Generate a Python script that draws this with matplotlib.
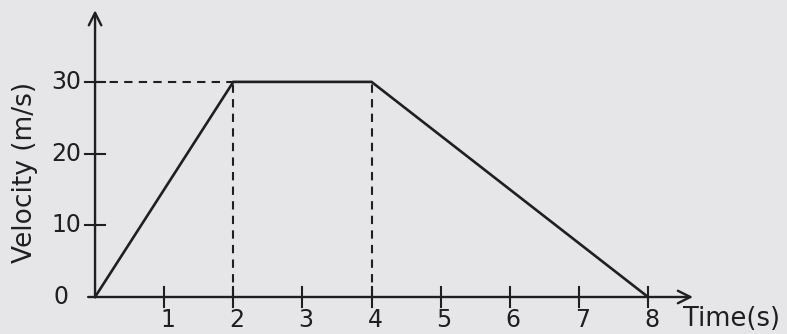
import matplotlib
matplotlib.use("Agg")
import matplotlib.pyplot as plt

# Velocity-time data
time_s = [0, 2, 4, 8]
velocity = [0, 30, 30, 0]
x_ticks = [1, 2, 3, 4, 5, 6, 7, 8]
y_ticks = [10, 20, 30]

ink = "#1f1f1f"
bg = "#e6e6e8"
fig = plt.figure(figsize=(7.87, 3.34), dpi=100, facecolor=bg)
ax = fig.add_axes([0, 0, 1, 1])
ax.set_facecolor(bg)
ax.set_xlim(-1.375, 10.01)
ax.set_ylim(-5.16, 41.42)
ax.axis("off")

# Axes with arrow heads
arrow = dict(arrowstyle="->,head_length=0.9,head_width=0.45", color=ink, lw=1.7,
             shrinkA=0, shrinkB=0)
ax.annotate("", xy=(0, 40.0), xytext=(0, 0), arrowprops=arrow)
ax.annotate("", xy=(8.65, 0), xytext=(-0.1, 0), arrowprops=arrow)

# Tick marks crossing the axes
for t in x_ticks:
    ax.plot([t, t], [-1.4, 1.4], color=ink, lw=1.5)
for v in y_ticks:
    ax.plot([-0.14, 0.14], [v, v], color=ink, lw=1.5)

# Dashed guide lines
dash = dict(color=ink, lw=1.5, ls=(0, (4, 3)))
ax.plot([0, time_s[1]], [velocity[1], velocity[1]], **dash)
ax.plot([time_s[1], time_s[1]], [0, velocity[1]], **dash)
ax.plot([time_s[2], time_s[2]], [0, velocity[2]], **dash)

# Velocity curve
ax.plot(time_s, velocity, color=ink, lw=1.9, solid_joinstyle="miter")

# Labels
fs = 17
for t in x_ticks:
    ax.text(t + 0.05, -1.5, str(t), ha="center", va="top", fontsize=fs, color=ink)
for v in y_ticks:
    ax.text(-0.2, v, str(v), ha="right", va="center", fontsize=fs, color=ink)
ax.text(-0.38, 0, "0", ha="right", va="center", fontsize=fs, color=ink)
ax.text(8.5, -1.2, "Time(s)", ha="left", va="top", fontsize=18.5, color=ink)
ax.text(-1.02, 17.4, "Velocity (m/s)", ha="center", va="center", rotation=90,
        fontsize=19, color=ink)

fig.savefig("out.png", dpi=100, facecolor=fig.get_facecolor())
